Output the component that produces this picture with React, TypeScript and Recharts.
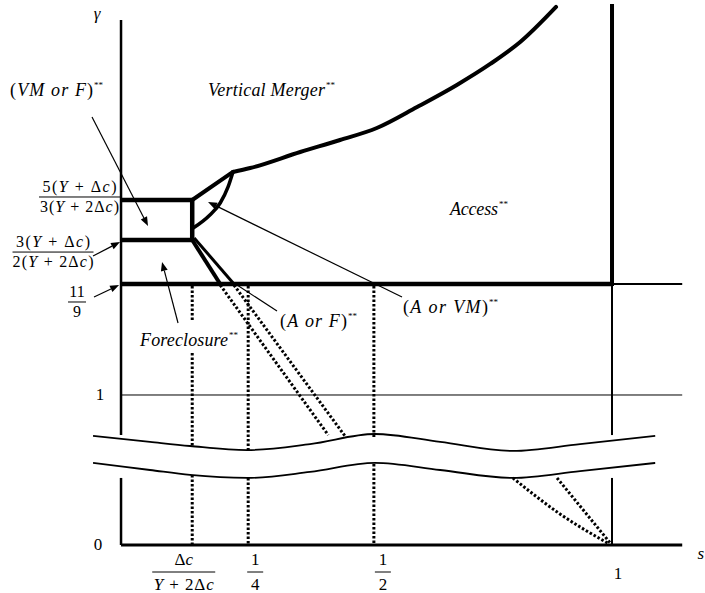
import React from 'react';
import { ComposedChart, Line, XAxis, YAxis, ReferenceLine, Scatter } from 'recharts';

type Pt = { s: number; g: number };

const FONT = "'Liberation Serif', 'Times New Roman', serif";
const INK = '#000';

const S_DOMAIN: [number, number] = [-0.2465, 1.1894];
const G_DOMAIN: [number, number] = [0, 3.6333];

// s axis ticks, at the places they sit in the figure
const sTicks = [0.145, 0.259, 0.515, 1];
const sTickLabels = [['Δc', 'Y + 2Δc'], ['1', '4'], ['1', '2'], ['1']];

// γ axis ticks (the axis is broken between 0 and 1)
const gTicks = [0, 1, 1.74, 2.033, 2.3];
const gTickLabels = [['0'], ['1'], ['11', '9'], ['3(Y + Δc)', '2(Y + 2Δc)'], ['5(Y + Δc)', '3(Y + 2Δc)']];

// region boundaries
const foreclosureBox: Pt[] = [
  { s: 0, g: 2.3 },
  { s: 0.145, g: 2.3 },
  { s: 0.145, g: 2.033 },
  { s: 0, g: 2.033 }
];
const kinkEdge: Pt[] = [{ s: 0.145, g: 2.3 }, { s: 0.228, g: 2.487 }];
const vmBoundary: Pt[] = [
  { s: 0.228, g: 2.487 },
  { s: 0.263, g: 2.513 },
  { s: 0.365, g: 2.62 },
  { s: 0.446, g: 2.7 },
  { s: 0.521, g: 2.78 },
  { s: 0.603, g: 2.92 },
  { s: 0.684, g: 3.067 },
  { s: 0.752, g: 3.207 },
  { s: 0.813, g: 3.353 },
  { s: 0.886, g: 3.587 }
];
const innerBoundary: Pt[] = [
  { s: 0.147, g: 2.113 },
  { s: 0.181, g: 2.2 },
  { s: 0.202, g: 2.28 },
  { s: 0.218, g: 2.387 },
  { s: 0.228, g: 2.487 }
];
const afOuter: Pt[] = [{ s: 0.145, g: 2.033 }, { s: 0.202, g: 1.74 }];
const afInner: Pt[] = [{ s: 0.149, g: 2.047 }, { s: 0.23, g: 1.74 }];
const elevenNinthsEdge: Pt[] = [{ s: 0, g: 1.74 }, { s: 1, g: 1.74 }];
const sOneEdge: Pt[] = [{ s: 1, g: 1.74 }, { s: 1, g: 3.593 }];

// dotted continuations
const dottedA: Pt[] = [{ s: 0.202, g: 1.733 }, { s: 0.422, g: 0.733 }];
const dottedB: Pt[] = [{ s: 0.23, g: 1.733 }, { s: 0.456, g: 0.727 }];
const dottedC: Pt[] = [{ s: 0.798, g: 0.447 }, { s: 0.894, g: 0.207 }, { s: 0.994, g: 0.007 }];
const dottedD: Pt[] = [{ s: 0.888, g: 0.447 }, { s: 0.998, g: 0.007 }];

// axis break (two wavy edges)
const breakS = [-0.057, 0.059, 0.1405, 0.2566, 0.385, 0.517, 0.65, 0.798, 0.935, 1.088];
const breakTop = [0.727, 0.687, 0.66, 0.633, 0.673, 0.74, 0.687, 0.627, 0.673, 0.727];
const breakBottom = [0.547, 0.5, 0.467, 0.447, 0.487, 0.547, 0.5, 0.447, 0.493, 0.547];

// dotted guides under the ticks: [from γ, to γ]
const guideDc = [[1.727, 1.487], [1.28, 0.66], [0.467, 0]];
const guideQuarter = [[1.727, 0.633], [0.447, 0]];
const guideHalf = [[1.727, 0.72], [0.54, 0]];

// axis pieces
const yAxisSpans = [[0.733, 3.5], [0, 0.447]];
const sOneThinSpans = [[0.733, 1.74], [0, 0.447]];
const axisEnd = 1.143;

// region names
const annotations = [
  { s: -0.226, g: 3.033, text: '(VM or F)' },
  { s: 0.1772, g: 3.033, text: 'Vertical Merger' },
  { s: 0.67, g: 2.24, text: 'Access' },
  { s: 0.5743, g: 1.587, text: '(A or VM)' },
  { s: 0.3238, g: 1.493, text: '(A or F)' },
  { s: 0.0387, g: 1.367, text: 'Foreclosure' }
];
const annotationWidths = [83, 117, 48, 85, 67, 88];

// leader arrows: [tail, head, has head]
const arrows: [Pt, Pt, boolean][] = [
  [{ s: -0.0591, g: 2.853 }, { s: 0.055, g: 2.127 }, true],
  [{ s: 0.1161, g: 1.48 }, { s: 0.0835, g: 1.887 }, true],
  [{ s: 0.5723, g: 1.653 }, { s: 0.1772, g: 2.287 }, true],
  [{ s: 0.3177, g: 1.56 }, { s: 0.2363, g: 1.733 }, false],
  [{ s: -0.057, g: 1.927 }, { s: -0.002, g: 2.02 }, true],
  [{ s: -0.055, g: 1.653 }, { s: -0.004, g: 1.733 }, true]
];

const MathText = ({ x, y, size, anchor = 'start', width, children }: any) => {
  const runs: string[] = String(children).match(/[A-Za-z]+|[^A-Za-z]+/g) || [];
  const fit = width ? { textLength: width, lengthAdjust: 'spacing' } : {};
  return (
    <text x={x} y={y} fontSize={size} fontFamily={FONT} textAnchor={anchor} fill={INK} style={{ whiteSpace: 'pre', fontFamily: FONT }} {...fit}>
      {runs.map((r, i) => (
        <tspan key={i} fontStyle={/[A-Za-z]/.test(r) ? 'italic' : 'normal'}>
          {r}
        </tspan>
      ))}
    </text>
  );
};

const Fraction = ({ cx, barY, num, den, size, barW, numW, denW, numGap, denGap }: any) => (
  <g>
    <MathText x={cx} y={barY - numGap} size={size} anchor="middle" width={numW}>
      {num}
    </MathText>
    <line x1={cx - barW / 2} x2={cx + barW / 2} y1={barY} y2={barY} stroke={INK} strokeWidth={1} />
    <MathText x={cx} y={barY + denGap} size={size} anchor="middle" width={denW}>
      {den}
    </MathText>
  </g>
);

const sTickLayout = [
  { dx: -8.5, barW: 63, denW: 60 },
  { dx: 7, barW: 16 },
  { dx: 9, barW: 16 },
  { dx: 6 }
];

const STick = (props: any) => {
  const { x, y, payload } = props;
  const i = sTicks.indexOf(payload.value);
  if (i < 0) return null;
  const [num, den] = sTickLabels[i];
  const L: any = sTickLayout[i];
  if (!den) {
    return (
      <MathText x={x + L.dx} y={y + 34} size={17} anchor="middle">
        {num}
      </MathText>
    );
  }
  return (
    <Fraction cx={x + L.dx} barY={y + 27} num={num} den={den} size={17} barW={L.barW} denW={L.denW} numGap={7} denGap={18} />
  );
};

const gLabelLayout: any[] = [
  { dx: -23, dy: 5 },
  { dx: -21, dy: 5 },
  { dx: -44, bar: 18, barW: 18 },
  { dx: -68, bar: 12, barW: 81, numW: 74, denW: 81 },
  { dx: -41.5, bar: -3, barW: 81, numW: 74, denW: 79 }
];
const gLabelPoints = gTicks.map((g, i) => ({ s: 0, g, i }));

const GLabel = (p: any) => {
  const { cx, cy, payload } = p;
  const [num, den] = gTickLabels[payload.i];
  const L = gLabelLayout[payload.i];
  if (!den) {
    return (
      <MathText x={cx + L.dx} y={cy + L.dy} size={17} anchor="middle">
        {num}
      </MathText>
    );
  }
  return (
    <Fraction cx={cx + L.dx} barY={cy + L.bar} num={num} den={den} size={16} barW={L.barW} numW={L.numW} denW={L.denW} numGap={5} denGap={15} />
  );
};

const annotationPoints = annotations.map((a, i) => ({ ...a, i }));

const Annotation = (p: any) => {
  const { cx, cy, payload } = p;
  const w = annotationWidths[payload.i];
  return (
    <g>
      <MathText x={cx} y={cy + 6} size={18} width={w}>
        {payload.text}
      </MathText>
      <text x={cx + w + 1} y={cy - 2} fontSize={9} fontFamily={FONT} fill={INK}>
        **
      </text>
    </g>
  );
};

const axisNames = [{ s: -0.0489, g: 3.533, text: 'γ' }];

const AxisName = (p: any) => (
  <text x={p.cx} y={p.cy + 4} fontSize={17} fontFamily={FONT} fontStyle="italic" textAnchor="middle" fill={INK}>
    {p.payload.text}
  </text>
);

const arrowShape = (head: boolean) => (p: any) => {
  const { x1, y1, x2, y2 } = p;
  const a = Math.atan2(y2 - y1, x2 - x1);
  const len = head ? 9 : 0;
  const half = 3.5;
  const bx = x2 - len * Math.cos(a);
  const by = y2 - len * Math.sin(a);
  const pts = `${x2},${y2} ${bx + half * Math.sin(a)},${by - half * Math.cos(a)} ${bx - half * Math.sin(a)},${by + half * Math.cos(a)}`;
  return (
    <g>
      <line x1={x1} y1={y1} x2={bx} y2={by} stroke={INK} strokeWidth={1.2} />
      {head && <polygon points={pts} fill={INK} />}
    </g>
  );
};

const sLabel = (props: any) => {
  const vb = props.viewBox || {};
  return (
    <text x={vb.x + vb.width - 1} y={vb.y + 14} fontSize={17} fontFamily={FONT} fontStyle="italic" textAnchor="end" fill={INK}>
      s
    </text>
  );
};

const edge = (key: string, data: Pt[], width: number, extra: any = {}) => (
  <Line
    key={key}
    data={data}
    dataKey="g"
    type="linear"
    stroke={INK}
    strokeWidth={width}
    dot={false}
    activeDot={false}
    legendType="none"
    isAnimationActive={false}
    {...extra}
  />
);

const seg = (key: string, a: Pt, b: Pt, width: number, dash?: string) => (
  <ReferenceLine
    key={key}
    segment={[{ x: a.s, y: a.g }, { x: b.s, y: b.g }]}
    stroke={INK}
    strokeWidth={width}
    strokeDasharray={dash}
    ifOverflow="visible"
  />
);

const DOTS = '2.5 2';

export default function App() {
  const guides = [
    { s: sTicks[0], spans: guideDc },
    { s: sTicks[1], spans: guideQuarter },
    { s: sTicks[2], spans: guideHalf }
  ];
  const breakTopPts = breakS.map((s, i) => ({ s, g: breakTop[i] }));
  const breakBottomPts = breakS.map((s, i) => ({ s, g: breakBottom[i] }));

  return (
    <div style={{ position: 'absolute', left: 0, top: 0, background: '#fff' }}>
      <ComposedChart width={705} height={593} margin={{ top: 0, right: 0, bottom: 0, left: 0 }}>
        <XAxis
          type="number"
          dataKey="s"
          domain={S_DOMAIN}
          ticks={sTicks}
          interval={0}
          axisLine={false}
          tickLine={false}
          tickSize={0}
          tickMargin={0}
          height={48}
          tick={(p: any) => <STick {...p} />}
          label={{ content: sLabel }}
        />
        <YAxis type="number" dataKey="g" domain={G_DOMAIN} hide />

        {/* axes and reference levels */}
        {yAxisSpans.map(([a, b], i) => seg(`ya${i}`, { s: 0, g: a }, { s: 0, g: b }, 2.5))}
        {sOneThinSpans.map(([a, b], i) => seg(`s1${i}`, { s: 1, g: a }, { s: 1, g: b }, 2))}
        {seg('xaxis', { s: 0, g: 0 }, { s: axisEnd, g: 0 }, 3)}
        {seg('one', { s: 0, g: 1 }, { s: axisEnd, g: 1 }, 1)}
        {seg('e9tail', { s: 1, g: 1.74 }, { s: axisEnd, g: 1.74 }, 2)}

        {/* dotted guides */}
        {guides.map((gd, j) =>
          gd.spans.map(([a, b], i) => seg(`gd${j}-${i}`, { s: gd.s, g: a }, { s: gd.s, g: b }, 3, DOTS))
        )}

        {/* break */}
        {edge('brTop', breakTopPts, 1.8, { type: 'monotone' })}
        {edge('brBottom', breakBottomPts, 1.8, { type: 'monotone' })}

        {/* boundaries */}
        {edge('box', foreclosureBox, 4.5, { strokeLinejoin: 'miter' })}
        {edge('kink', kinkEdge, 4, { strokeLinecap: 'round' })}
        {edge('vm', vmBoundary, 4, { type: 'monotone', strokeLinecap: 'round' })}
        {edge('inner', innerBoundary, 3.5, { type: 'monotone' })}
        {edge('afOuter', afOuter, 4)}
        {edge('afInner', afInner, 3)}
        {edge('e9', elevenNinthsEdge, 4.5)}
        {edge('sOne', sOneEdge, 4, { strokeLinecap: 'square' })}

        {edge('dotA', dottedA, 3, { strokeDasharray: DOTS })}
        {edge('dotB', dottedB, 3, { strokeDasharray: DOTS })}
        {edge('dotC', dottedC, 3, { strokeDasharray: DOTS, type: 'monotone' })}
        {edge('dotD', dottedD, 3, { strokeDasharray: DOTS })}

        {/* leaders */}
        {arrows.map(([a, b, head], i) => (
          <ReferenceLine
            key={`ar${i}`}
            segment={[{ x: a.s, y: a.g }, { x: b.s, y: b.g }]}
            ifOverflow="visible"
            shape={arrowShape(head)}
          />
        ))}

        <Scatter data={annotationPoints} dataKey="g" isAnimationActive={false} legendType="none" shape={(p: any) => <Annotation {...p} />} />
        <Scatter data={gLabelPoints} dataKey="g" isAnimationActive={false} legendType="none" shape={(p: any) => <GLabel {...p} />} />
        <Scatter data={axisNames} dataKey="g" isAnimationActive={false} legendType="none" shape={(p: any) => <AxisName {...p} />} />
      </ComposedChart>
    </div>
  );
}
